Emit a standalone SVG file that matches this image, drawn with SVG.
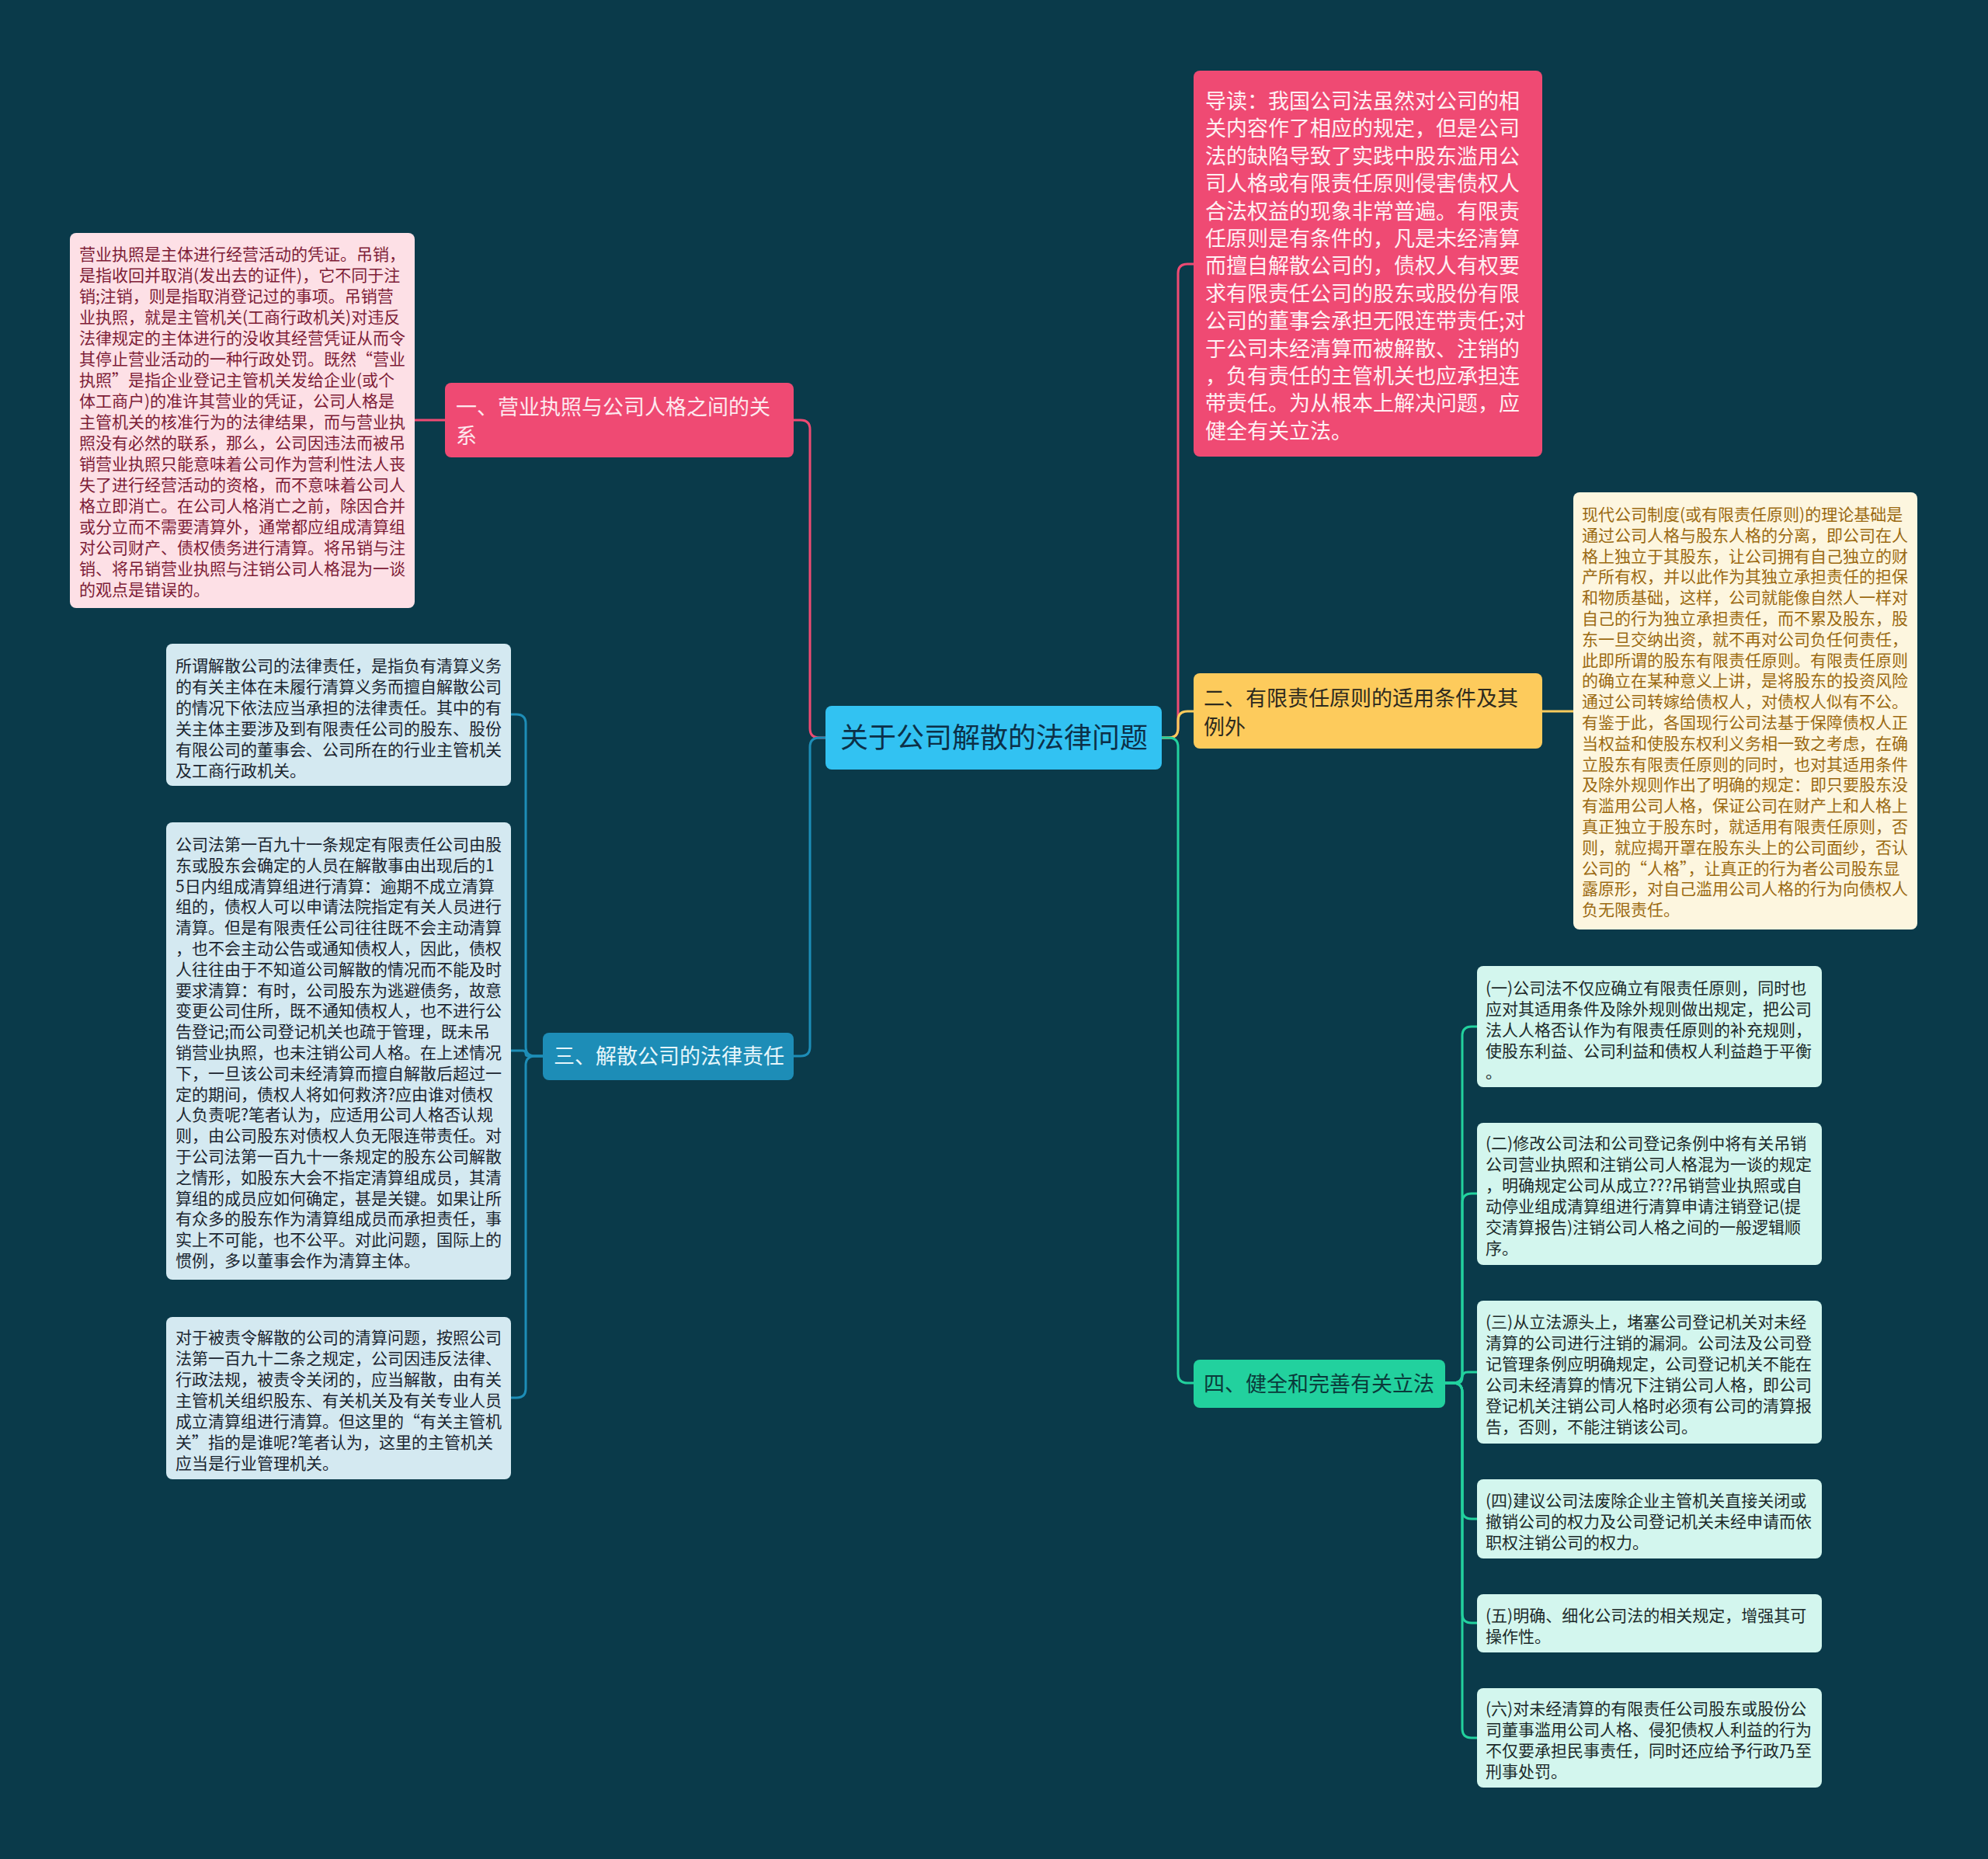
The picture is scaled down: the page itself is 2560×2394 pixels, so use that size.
<svg xmlns="http://www.w3.org/2000/svg" width="2560" height="2394" viewBox="0 0 2560 2394">
<style>
text{font-family:"Noto Sans CJK SC","Noto Sans",sans-serif;}
.t21{font-size:21px;}
.t27{font-size:27px;}
.t36{font-size:36px;}
.c{fill:none;stroke-width:3;stroke-linecap:round;stroke-linejoin:round;}
.cp{stroke:#ef4a73;} .cy{stroke:#fdcb5c;} .cb{stroke:#1d8db7;} .cg{stroke:#22d19e;}
</style>
<rect width="2560" height="2394" fill="#0a3a4a"/>
<g id="connectors">
<path class="c cp" d="M1063,950 H1055 Q1043,950 1043,938 V553 Q1043,541 1031,541 H1022"/>
<path class="c cb" d="M1063,950 H1055 Q1043,950 1043,962 V1348 Q1043,1360 1031,1360 H1022"/>
<path class="c cp" d="M1496,950 H1505 Q1517,950 1517,938 V352 Q1517,340 1529,340 H1537"/>
<path class="c cy" d="M1496,950 H1505 Q1517,950 1517,938 V928 Q1517,916 1529,916 H1537"/>
<path class="c cg" d="M1496,950 H1505 Q1517,950 1517,962 V1769 Q1517,1781 1529,1781 H1537"/>
<path class="c cp" d="M573,541 H534"/>
<path class="c cy" d="M1986,916 H2026"/>
<path class="c cb" d="M699,1360 H689 Q677,1360 677,1348 V932 Q677,920 665,920 H658"/>
<path class="c cb" d="M699,1360 H681 Q677,1360 677,1357 Q677,1353 673,1353 H658"/>
<path class="c cb" d="M699,1360 H689 Q677,1360 677,1372 V1788 Q677,1800 665,1800 H658"/>
<path class="c cg" d="M1861,1781 H1871 Q1883,1781 1883,1769 V1334 Q1883,1322 1895,1322 H1902"/>
<path class="c cg" d="M1861,1781 H1871 Q1883,1781 1883,1769 V1549 Q1883,1537 1895,1537 H1902"/>
<path class="c cg" d="M1861,1781 H1876 Q1883,1781 1883,1774 Q1883,1767 1890,1767 H1902"/>
<path class="c cg" d="M1861,1781 H1871 Q1883,1781 1883,1793 V1944 Q1883,1956 1895,1956 H1902"/>
<path class="c cg" d="M1861,1781 H1871 Q1883,1781 1883,1793 V2078 Q1883,2090 1895,2090 H1902"/>
<path class="c cg" d="M1861,1781 H1871 Q1883,1781 1883,1793 V2226 Q1883,2238 1895,2238 H1902"/>
</g>
<g id="root">
<rect x="1063" y="909" width="433" height="82" rx="8" fill="#32c2f2"/>
<text class="t36" x="1082" y="963" fill="#0c3048">关于公司解散的法律问题</text>
</g>
<g id="b1">
<rect x="573" y="493" width="449" height="96" rx="8" fill="#ef4a73"/>
<text class="t27" fill="#fde8ee"><tspan x="587" y="534">一、营业执照与公司人格之间的关</tspan><tspan x="587" y="571">系</tspan></text>
</g>
<g id="b1l">
<rect x="90" y="300" width="444" height="483" rx="8" fill="#fde0e6"/>
<text class="t21" fill="#7d1d37"><tspan x="102" y="335">营业执照是主体进行经营活动的凭证。吊销，</tspan><tspan x="102" dy="27">是指收回并取消(发出去的证件)，它不同于注</tspan><tspan x="102" dy="27">销;注销，则是指取消登记过的事项。吊销营</tspan><tspan x="102" dy="27">业执照，就是主管机关(工商行政机关)对违反</tspan><tspan x="102" dy="27">法律规定的主体进行的没收其经营凭证从而令</tspan><tspan x="102" dy="27">其停止营业活动的一种行政处罚。既然“营业</tspan><tspan x="102" dy="27">执照”是指企业登记主管机关发给企业(或个</tspan><tspan x="102" dy="27">体工商户)的准许其营业的凭证，公司人格是</tspan><tspan x="102" dy="27">主管机关的核准行为的法律结果，而与营业执</tspan><tspan x="102" dy="27">照没有必然的联系，那么，公司因违法而被吊</tspan><tspan x="102" dy="27">销营业执照只能意味着公司作为营利性法人丧</tspan><tspan x="102" dy="27">失了进行经营活动的资格，而不意味着公司人</tspan><tspan x="102" dy="27">格立即消亡。在公司人格消亡之前，除因合并</tspan><tspan x="102" dy="27">或分立而不需要清算外，通常都应组成清算组</tspan><tspan x="102" dy="27">对公司财产、债权债务进行清算。将吊销与注</tspan><tspan x="102" dy="27">销、将吊销营业执照与注销公司人格混为一谈</tspan><tspan x="102" dy="27">的观点是错误的。</tspan></text>
</g>
<g id="b3">
<rect x="699" y="1330" width="323" height="61" rx="8" fill="#1d8db7"/>
<text class="t27" x="713" y="1370" fill="#e6f6fb">三、解散公司的法律责任</text>
</g>
<g id="b3a">
<rect x="214" y="829" width="444" height="183" rx="8" fill="#d4e9f1"/>
<text class="t21" fill="#1b2530"><tspan x="226" y="865">所谓解散公司的法律责任，是指负有清算义务</tspan><tspan x="226" dy="27">的有关主体在未履行清算义务而擅自解散公司</tspan><tspan x="226" dy="27">的情况下依法应当承担的法律责任。其中的有</tspan><tspan x="226" dy="27">关主体主要涉及到有限责任公司的股东、股份</tspan><tspan x="226" dy="27">有限公司的董事会、公司所在的行业主管机关</tspan><tspan x="226" dy="27">及工商行政机关。</tspan></text>
</g>
<g id="b3b">
<rect x="214" y="1059" width="444" height="589" rx="8" fill="#d4e9f1"/>
<text class="t21" fill="#1b2530"><tspan x="226" y="1095">公司法第一百九十一条规定有限责任公司由股</tspan><tspan x="226" dy="26.8">东或股东会确定的人员在解散事由出现后的1</tspan><tspan x="226" dy="26.8">5日内组成清算组进行清算：逾期不成立清算</tspan><tspan x="226" dy="26.8">组的，债权人可以申请法院指定有关人员进行</tspan><tspan x="226" dy="26.8">清算。但是有限责任公司往往既不会主动清算</tspan><tspan x="226" dy="26.8">，也不会主动公告或通知债权人，因此，债权</tspan><tspan x="226" dy="26.8">人往往由于不知道公司解散的情况而不能及时</tspan><tspan x="226" dy="26.8">要求清算：有时，公司股东为逃避债务，故意</tspan><tspan x="226" dy="26.8">变更公司住所，既不通知债权人，也不进行公</tspan><tspan x="226" dy="26.8">告登记;而公司登记机关也疏于管理，既未吊</tspan><tspan x="226" dy="26.8">销营业执照，也未注销公司人格。在上述情况</tspan><tspan x="226" dy="26.8">下，一旦该公司未经清算而擅自解散后超过一</tspan><tspan x="226" dy="26.8">定的期间，债权人将如何救济?应由谁对债权</tspan><tspan x="226" dy="26.8">人负责呢?笔者认为，应适用公司人格否认规</tspan><tspan x="226" dy="26.8">则，由公司股东对债权人负无限连带责任。对</tspan><tspan x="226" dy="26.8">于公司法第一百九十一条规定的股东公司解散</tspan><tspan x="226" dy="26.8">之情形，如股东大会不指定清算组成员，其清</tspan><tspan x="226" dy="26.8">算组的成员应如何确定，甚是关键。如果让所</tspan><tspan x="226" dy="26.8">有众多的股东作为清算组成员而承担责任，事</tspan><tspan x="226" dy="26.8">实上不可能，也不公平。对此问题，国际上的</tspan><tspan x="226" dy="26.8">惯例，多以董事会作为清算主体。</tspan></text>
</g>
<g id="b3c">
<rect x="214" y="1696" width="444" height="209" rx="8" fill="#d4e9f1"/>
<text class="t21" fill="#1b2530"><tspan x="226" y="1730">对于被责令解散的公司的清算问题，按照公司</tspan><tspan x="226" dy="27">法第一百九十二条之规定，公司因违反法律、</tspan><tspan x="226" dy="27">行政法规，被责令关闭的，应当解散，由有关</tspan><tspan x="226" dy="27">主管机关组织股东、有关机关及有关专业人员</tspan><tspan x="226" dy="27">成立清算组进行清算。但这里的“有关主管机</tspan><tspan x="226" dy="27">关”指的是谁呢?笔者认为，这里的主管机关</tspan><tspan x="226" dy="27">应当是行业管理机关。</tspan></text>
</g>
<g id="intro">
<rect x="1537" y="91" width="449" height="497" rx="8" fill="#ef4a73"/>
<text class="t27" fill="#fff0f3"><tspan x="1552" y="140">导读：我国公司法虽然对公司的相</tspan><tspan x="1552" dy="35.4">关内容作了相应的规定，但是公司</tspan><tspan x="1552" dy="35.4">法的缺陷导致了实践中股东滥用公</tspan><tspan x="1552" dy="35.4">司人格或有限责任原则侵害债权人</tspan><tspan x="1552" dy="35.4">合法权益的现象非常普遍。有限责</tspan><tspan x="1552" dy="35.4">任原则是有条件的，凡是未经清算</tspan><tspan x="1552" dy="35.4">而擅自解散公司的，债权人有权要</tspan><tspan x="1552" dy="35.4">求有限责任公司的股东或股份有限</tspan><tspan x="1552" dy="35.4">公司的董事会承担无限连带责任;对</tspan><tspan x="1552" dy="35.4">于公司未经清算而被解散、注销的</tspan><tspan x="1552" dy="35.4">，负有责任的主管机关也应承担连</tspan><tspan x="1552" dy="35.4">带责任。为从根本上解决问题，应</tspan><tspan x="1552" dy="35.4">健全有关立法。</tspan></text>
</g>
<g id="b2">
<rect x="1537" y="867" width="449" height="97" rx="8" fill="#fdcb5c"/>
<text class="t27" fill="#2d2a1e"><tspan x="1550" y="909">二、有限责任原则的适用条件及其</tspan><tspan x="1550" y="946">例外</tspan></text>
</g>
<g id="b2l">
<rect x="2026" y="634" width="443" height="563" rx="8" fill="#fdf6df"/>
<text class="t21" fill="#9b6a12"><tspan x="2037" y="670">现代公司制度(或有限责任原则)的理论基础是</tspan><tspan x="2037" dy="26.8">通过公司人格与股东人格的分离，即公司在人</tspan><tspan x="2037" dy="26.8">格上独立于其股东，让公司拥有自己独立的财</tspan><tspan x="2037" dy="26.8">产所有权，并以此作为其独立承担责任的担保</tspan><tspan x="2037" dy="26.8">和物质基础，这样，公司就能像自然人一样对</tspan><tspan x="2037" dy="26.8">自己的行为独立承担责任，而不累及股东，股</tspan><tspan x="2037" dy="26.8">东一旦交纳出资，就不再对公司负任何责任，</tspan><tspan x="2037" dy="26.8">此即所谓的股东有限责任原则。有限责任原则</tspan><tspan x="2037" dy="26.8">的确立在某种意义上讲，是将股东的投资风险</tspan><tspan x="2037" dy="26.8">通过公司转嫁给债权人，对债权人似有不公。</tspan><tspan x="2037" dy="26.8">有鉴于此，各国现行公司法基于保障债权人正</tspan><tspan x="2037" dy="26.8">当权益和使股东权利义务相一致之考虑，在确</tspan><tspan x="2037" dy="26.8">立股东有限责任原则的同时，也对其适用条件</tspan><tspan x="2037" dy="26.8">及除外规则作出了明确的规定：即只要股东没</tspan><tspan x="2037" dy="26.8">有滥用公司人格，保证公司在财产上和人格上</tspan><tspan x="2037" dy="26.8">真正独立于股东时，就适用有限责任原则，否</tspan><tspan x="2037" dy="26.8">则，就应揭开罩在股东头上的公司面纱，否认</tspan><tspan x="2037" dy="26.8">公司的“人格”，让真正的行为者公司股东显</tspan><tspan x="2037" dy="26.8">露原形，对自己滥用公司人格的行为向债权人</tspan><tspan x="2037" dy="26.8">负无限责任。</tspan></text>
</g>
<g id="b4">
<rect x="1537" y="1751" width="324" height="62" rx="8" fill="#22d19e"/>
<text class="t27" x="1550" y="1792" fill="#0a3a3a">四、健全和完善有关立法</text>
</g>
<g id="b4a">
<rect x="1902" y="1244" width="444" height="156" rx="8" fill="#d3f6ee"/>
<text class="t21" fill="#1c2a2a"><tspan x="1913" y="1280">(一)公司法不仅应确立有限责任原则，同时也</tspan><tspan x="1913" dy="27">应对其适用条件及除外规则做出规定，把公司</tspan><tspan x="1913" dy="27">法人人格否认作为有限责任原则的补充规则，</tspan><tspan x="1913" dy="27">使股东利益、公司利益和债权人利益趋于平衡</tspan><tspan x="1913" dy="27">。</tspan></text>
</g>
<g id="b4b">
<rect x="1902" y="1446" width="444" height="183" rx="8" fill="#d3f6ee"/>
<text class="t21" fill="#1c2a2a"><tspan x="1913" y="1480">(二)修改公司法和公司登记条例中将有关吊销</tspan><tspan x="1913" dy="27">公司营业执照和注销公司人格混为一谈的规定</tspan><tspan x="1913" dy="27">，明确规定公司从成立???吊销营业执照或自</tspan><tspan x="1913" dy="27">动停业组成清算组进行清算申请注销登记(提</tspan><tspan x="1913" dy="27">交清算报告)注销公司人格之间的一般逻辑顺</tspan><tspan x="1913" dy="27">序。</tspan></text>
</g>
<g id="b4c">
<rect x="1902" y="1675" width="444" height="184" rx="8" fill="#d3f6ee"/>
<text class="t21" fill="#1c2a2a"><tspan x="1913" y="1710">(三)从立法源头上，堵塞公司登记机关对未经</tspan><tspan x="1913" dy="27">清算的公司进行注销的漏洞。公司法及公司登</tspan><tspan x="1913" dy="27">记管理条例应明确规定，公司登记机关不能在</tspan><tspan x="1913" dy="27">公司未经清算的情况下注销公司人格，即公司</tspan><tspan x="1913" dy="27">登记机关注销公司人格时必须有公司的清算报</tspan><tspan x="1913" dy="27">告，否则，不能注销该公司。</tspan></text>
</g>
<g id="b4d">
<rect x="1902" y="1905" width="444" height="102" rx="8" fill="#d3f6ee"/>
<text class="t21" fill="#1c2a2a"><tspan x="1913" y="1940">(四)建议公司法废除企业主管机关直接关闭或</tspan><tspan x="1913" dy="27">撤销公司的权力及公司登记机关未经申请而依</tspan><tspan x="1913" dy="27">职权注销公司的权力。</tspan></text>
</g>
<g id="b4e">
<rect x="1902" y="2053" width="444" height="75" rx="8" fill="#d3f6ee"/>
<text class="t21" fill="#1c2a2a"><tspan x="1913" y="2088">(五)明确、细化公司法的相关规定，增强其可</tspan><tspan x="1913" dy="27">操作性。</tspan></text>
</g>
<g id="b4f">
<rect x="1902" y="2174" width="444" height="128" rx="8" fill="#d3f6ee"/>
<text class="t21" fill="#1c2a2a"><tspan x="1913" y="2208">(六)对未经清算的有限责任公司股东或股份公</tspan><tspan x="1913" dy="27">司董事滥用公司人格、侵犯债权人利益的行为</tspan><tspan x="1913" dy="27">不仅要承担民事责任，同时还应给予行政乃至</tspan><tspan x="1913" dy="27">刑事处罚。</tspan></text>
</g>
</svg>
